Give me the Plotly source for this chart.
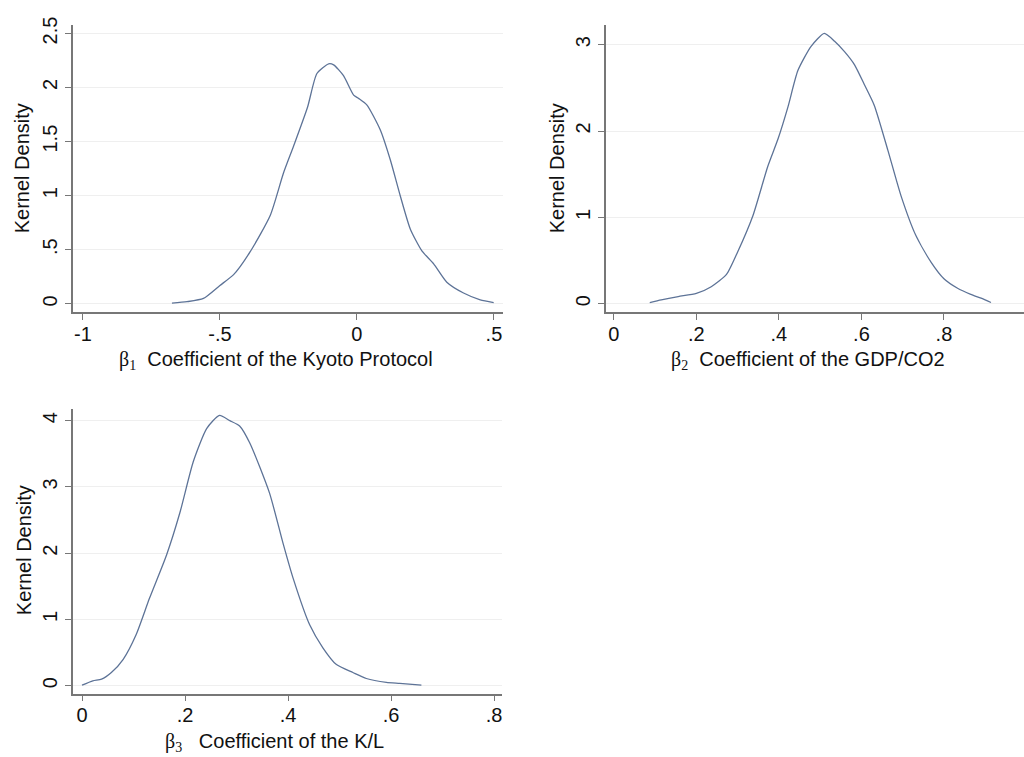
import plotly.graph_objects as go

# Panel 1: beta1, Kyoto Protocol
b1_x = [-0.675, -0.62, -0.56, -0.50, -0.45, -0.39, -0.316, -0.268, -0.231, -0.18, -0.146, -0.103,
        -0.085, -0.049, -0.012, 0.006, 0.036, 0.085, 0.122, 0.158, 0.195, 0.237, 0.28, 0.328,
        0.389, 0.45, 0.499]
b1_y = [0.006, 0.02, 0.05, 0.17, 0.27, 0.48, 0.82, 1.21, 1.46, 1.82, 2.13, 2.22,
        2.21, 2.11, 1.93, 1.90, 1.84, 1.61, 1.33, 1.0, 0.69, 0.49, 0.37, 0.20,
        0.10, 0.037, 0.012]

# Panel 2: beta2, GDP/CO2
b2_x = [0.087, 0.115, 0.156, 0.2, 0.236, 0.273, 0.30, 0.337, 0.373, 0.398, 0.422, 0.446, 0.478,
        0.51, 0.535, 0.559, 0.583, 0.607, 0.631, 0.664, 0.696, 0.732, 0.769, 0.80, 0.833,
        0.865, 0.89, 0.914]
b2_y = [0.015, 0.046, 0.084, 0.12, 0.198, 0.34, 0.60, 1.02, 1.59, 1.91, 2.28, 2.70, 2.98,
        3.13, 3.04, 2.92, 2.77, 2.54, 2.30, 1.78, 1.25, 0.79, 0.48, 0.29, 0.18,
        0.11, 0.065, 0.015]

# Panel 3: beta3, K/L
b3_x = [0.0, 0.021, 0.038, 0.057, 0.08, 0.105, 0.131, 0.164, 0.19, 0.216, 0.242, 0.267, 0.287,
        0.306, 0.326, 0.364, 0.39, 0.41, 0.442, 0.468, 0.494, 0.526, 0.552, 0.591, 0.617, 0.659]
b3_y = [0.01, 0.075, 0.10, 0.20, 0.40, 0.77, 1.32, 1.97, 2.61, 3.38, 3.88, 4.08, 4.0,
        3.92, 3.66, 2.91, 2.16, 1.62, 0.92, 0.57, 0.32, 0.20, 0.11, 0.05, 0.035, 0.01]

x1_ticks = [-1, -0.5, 0, 0.5]
x1_labels = ["-1", "-.5", "0", ".5"]
y1_ticks = [0, 0.5, 1, 1.5, 2, 2.5]
y1_labels = ["0", ".5", "1", "1.5", "2", "2.5"]
x2_ticks = [0, 0.2, 0.4, 0.6, 0.8, 1]
x2_labels = ["0", ".2", ".4", ".6", ".8", "1"]
y2_ticks = [0, 1, 2, 3]
y2_labels = ["0", "1", "2", "3"]
x3_ticks = [0, 0.2, 0.4, 0.6, 0.8]
x3_labels = ["0", ".2", ".4", ".6", ".8"]
y3_ticks = [0, 1, 2, 3, 4]
y3_labels = ["0", "1", "2", "3", "4"]

titles_x = [
    "<span style='font-family:Liberation Serif'>β<sub>1</sub></span>  Coefficient of the Kyoto Protocol",
    "<span style='font-family:Liberation Serif'>β<sub>2</sub></span>  Coefficient of the GDP/CO2",
    "<span style='font-family:Liberation Serif'>β<sub>3</sub></span>   Coefficient of the K/L",
]
title_y = "Kernel Density"

W, H = 1024, 757
LINE = "#5d7397"
AXC = "#777777"
GRID = "#efefef"
FONT = "Liberation Sans, Arial, sans-serif"

fig = go.Figure()
for xs, ys, xa, ya in [(b1_x, b1_y, "x", "y"), (b2_x, b2_y, "x2", "y2"), (b3_x, b3_y, "x3", "y3")]:
    fig.add_trace(go.Scatter(x=xs, y=ys, mode="lines",
                             line=dict(color=LINE, width=1.3, shape="spline", smoothing=0.6),
                             xaxis=xa, yaxis=ya, showlegend=False))


def xax(dom, rng, tv, tt, anchor):
    return dict(domain=dom, range=rng, tickvals=tv, ticktext=tt, anchor=anchor,
                showline=True, linecolor=AXC, linewidth=1.5, ticks="outside", ticklen=6,
                tickcolor=AXC, showgrid=False, zeroline=False, ticklabelstandoff=-3,
                tickfont=dict(family=FONT, size=20, color="#111111"), fixedrange=True)


def yax(dom, rng, tv, tt, anchor):
    return dict(domain=dom, range=rng, tickvals=tv, ticktext=tt, anchor=anchor,
                showline=True, linecolor=AXC, linewidth=1.5, ticks="outside", ticklen=6,
                tickcolor=AXC, showgrid=True, gridcolor=GRID, gridwidth=1, zeroline=False,
                tickangle=-90,
                tickfont=dict(family=FONT, size=20, color="#111111"), fixedrange=True)


def px(x0, x1):
    return [x0 / W, x1 / W]


def py(top, bottom):
    return [1 - bottom / H, 1 - top / H]


fig.update_layout(
    width=W, height=H,
    margin=dict(l=0, r=0, t=0, b=0),
    paper_bgcolor="white", plot_bgcolor="white",
    font=dict(family=FONT, color="#111111"),
    xaxis=xax(px(73, 503), [-1.036, 0.533], x1_ticks, x1_labels, "y"),
    yaxis=yax(py(17, 307), [-0.073, 2.58], y1_ticks, y1_labels, "x"),
    xaxis2=xax(px(606, 1024), [-0.019, 0.994], x2_ticks, x2_labels, "y2"),
    yaxis2=yax(py(17, 307), [-0.092, 3.23], y2_ticks, y2_labels, "x2"),
    xaxis3=xax(px(73, 502), [-0.0175, 0.8155], x3_ticks, x3_labels, "y3"),
    yaxis3=yax(py(405, 693), [-0.119, 4.18], y3_ticks, y3_labels, "x3"),
)

ann = []
for (cx, cy, txt) in [(276, 356, titles_x[0]), (808, 356, titles_x[1]), (274, 742, titles_x[2])]:
    ann.append(dict(x=cx / W, y=1 - cy / H, xref="paper", yref="paper", text=txt,
                    showarrow=False, xanchor="center", yanchor="middle",
                    font=dict(family=FONT, size=20, color="#111111")))
for (cx, cy) in [(22, 162), (557, 162), (24, 548)]:
    ann.append(dict(x=cx / W, y=1 - cy / H, xref="paper", yref="paper", text=title_y,
                    showarrow=False, xanchor="center", yanchor="middle", textangle=-90,
                    font=dict(family=FONT, size=20, color="#111111")))
fig.update_layout(annotations=ann)

fig.write_html("out.html", config={"displayModeBar": False},
               post_script="document.body.style.margin='0';document.body.style.overflow='hidden';")
